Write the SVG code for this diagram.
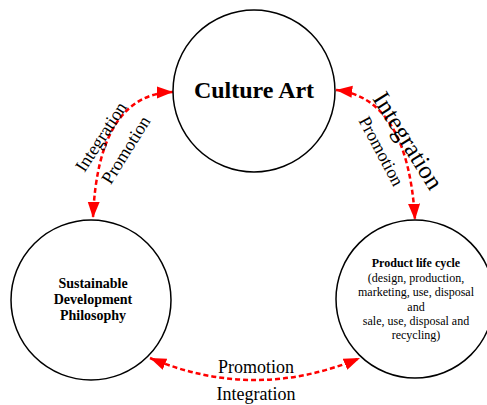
<svg xmlns="http://www.w3.org/2000/svg" width="487" height="405" viewBox="0 0 487 405">
<style>
.node{fill:#fff;stroke:#000;stroke-width:1.5}
.t{font-family:"Liberation Serif","Times New Roman",serif;fill:#000;text-anchor:middle}
.b{font-weight:bold}
.c{fill:none;stroke:#ff0000;stroke-width:2.5;stroke-dasharray:5,3}
</style>
<defs>
<marker id="a" viewBox="0 0 10 10" refX="10" refY="5" markerWidth="6.5" markerHeight="6.5" orient="auto-start-reverse">
<path d="M0,1.3 L10,5 L0,8.7 z" fill="#ff0000"/>
</marker>
</defs>
<rect width="487" height="405" fill="#fff"/>
<g id="connectors">
<path class="c" d="M173,92 Q98,94 93,218" marker-start="url(#a)" marker-end="url(#a)"/>
<path class="c" d="M336,90 Q408,98 415,220" marker-start="url(#a)" marker-end="url(#a)"/>
<path class="c" d="M150,358 Q255,402 360,358" marker-start="url(#a)" marker-end="url(#a)"/>
</g>
<g id="node-culture">
<circle class="node" cx="254" cy="91" r="81"/>
<text class="t b" x="254" y="98" font-size="24">Culture Art</text>
</g>
<g id="node-sustainable">
<circle class="node" cx="91" cy="300" r="80"/>
<text class="t b" font-size="14"><tspan x="93" y="288">Sustainable</tspan><tspan x="93" y="304">Development</tspan><tspan x="93" y="320">Philosophy</tspan></text>
</g>
<g id="node-product">
<circle class="node" cx="415" cy="299" r="79"/>
<text class="t" font-size="12"><tspan class="b" x="416" y="267">Product life cycle</tspan><tspan x="416" y="282">(design, production,</tspan><tspan x="416" y="296">marketing, use, disposal</tspan><tspan x="416" y="311">and</tspan><tspan x="416" y="325">sale, use, disposal and</tspan><tspan x="416" y="339">recycling)</tspan></text>
</g>
<g id="labels">
<text class="t" font-size="18" transform="translate(106,140) rotate(-57)">Integration</text>
<text class="t" font-size="18" transform="translate(131,153) rotate(-58)">Promotion</text>
<text class="t" font-size="25" transform="translate(401,145) rotate(58)">Integration</text>
<text class="t" font-size="18" transform="translate(376,154) rotate(62)">Promotion</text>
<text class="t" font-size="18" x="256" y="373">Promotion</text>
<text class="t" font-size="18" x="256" y="400">Integration</text>
</g>
</svg>
